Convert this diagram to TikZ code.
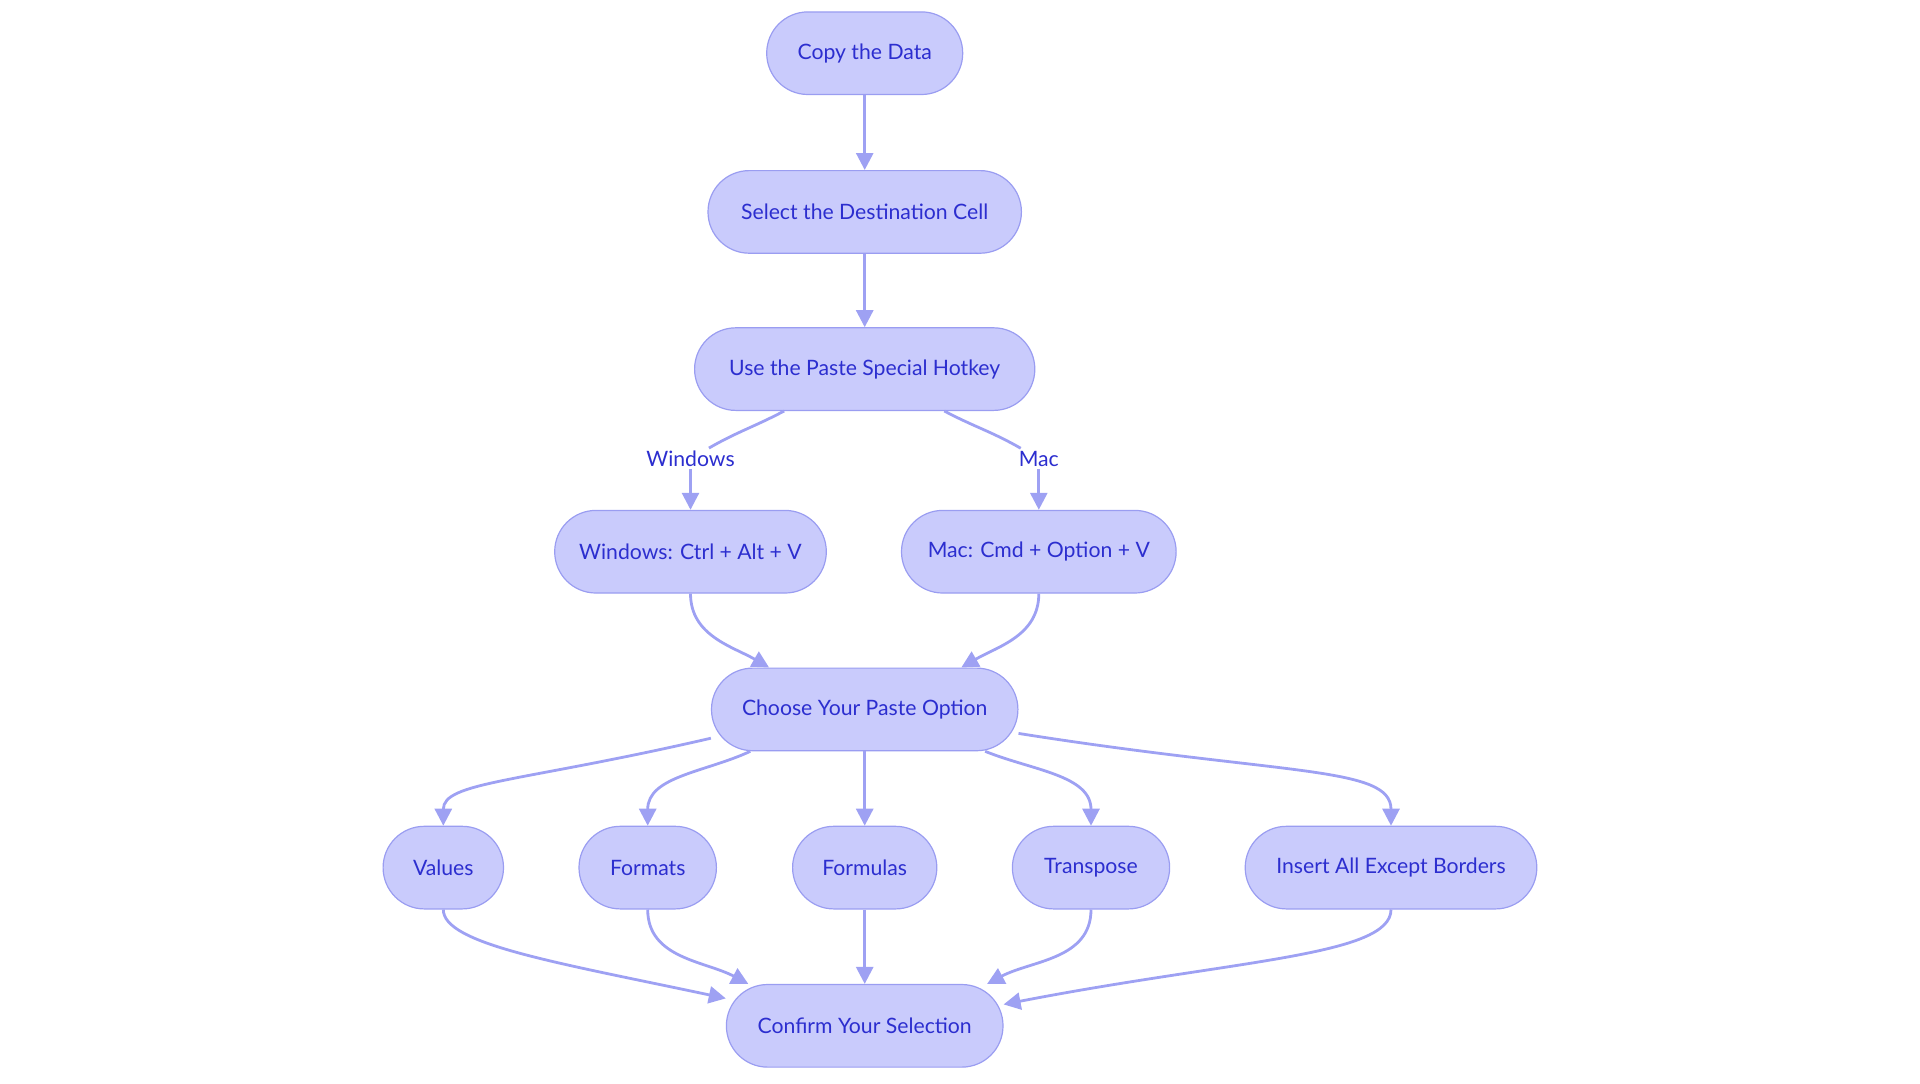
\documentclass[tikz,border=0pt]{standalone}
\usepackage{fontspec}
\setmainfont{Lato}
\usepackage{tikz}
\usetikzlibrary{arrows.meta}
\definecolor{boxfill}{HTML}{C9CBFC}
\definecolor{boxline}{HTML}{9A9DF1}
\definecolor{linkcol}{HTML}{9EA1F3}
\definecolor{txtcol}{HTML}{2C2ECF}
\tikzset{every picture/.style={line width=0.75pt}}
\tikzset{
  stadium/.style={draw=boxline, fill=boxfill, text=txtcol, line width=0.6pt,
    rounded corners=20.6pt, minimum height=41.3pt, inner sep=0pt,
    font=\fontsize{10.6}{13}\selectfont},
  plain/.style={draw=linkcol, line width=1.4pt},
  link/.style={plain, -{Triangle[length=8.5pt,width=8.5pt]}},
  lbl/.style={fill=white, text=txtcol, inner sep=1pt, font=\fontsize{10.6}{13}\selectfont}
}

\begin{document}
\begin{tikzpicture}[x=0.5pt,y=-0.5pt]
\useasboundingbox (0,0) rectangle (1920,1083);
\node[stadium, minimum width=98pt] (copy) at (864.7,53.2) {Copy the Data};
\node[stadium, minimum width=156.7pt] (sel) at (864.7,211.9) {Select the Destination Cell};
\node[stadium, minimum width=170.1pt] (hot) at (864.7,369.1) {Use the Paste Special Hotkey};
%
\node[stadium, minimum width=135.8pt] (win) at (690.5,551.7) {Windows: Ctrl + Alt + V};
\node[stadium, minimum width=137.3pt] (mac) at (1038.8,551.7) {Mac: Cmd + Option + V};
%
\node[stadium, minimum width=153.2pt] (cho) at (864.7,709.4) {Choose Your Paste Option};
%
\node[stadium, minimum width=60.2pt] (val) at (443.3,867.6) {Values};
\node[stadium, minimum width=68.7pt] (fmt) at (647.7,867.6) {Formats};
\node[stadium, minimum width=72.1pt] (fml) at (864.7,867.6) {Formulas};
\node[stadium, minimum width=78.6pt] (trn) at (1091,867.6) {Transpose};
\node[stadium, minimum width=145.8pt] (ins) at (1391,867.6) {Insert All Except Borders};
%
\node[stadium, minimum width=138.3pt] (cfm) at (864.7,1025.8) {Confirm Your Selection};
%
\node[lbl] (wlab) at (690.5,458.7) {Windows};
\node[lbl] (mlab) at (1038.8,458.7) {Mac};
%
\foreach \Source/\Target in {%
	copy/sel,
	sel/hot,
	wlab/win,
	mlab/mac,
	cho/fml,
	fml/cfm%
    }
\draw[link] (\Source) -- (\Target);
%
\draw[plain] ([xshift=-40.3pt]hot.south) to[out=208,in=30] (wlab);
\draw[plain] ([xshift=39.8pt]hot.south) to[out=-28,in=150] (mlab);
%
\draw[link] (win.south) to[out=270,in=150] ([xshift=-47.8pt]cho.north);
\draw[link] (mac.south) to[out=270,in=30] ([xshift=48.3pt]cho.north);
%
\draw[link] ([yshift=-14.4pt]cho.west) to[out=193,in=90,out looseness=1.8,in looseness=0.4] (val.north);
\draw[link] ([xshift=-57.2pt]cho.south) to[out=205,in=90] (fmt.north);
\draw[link] ([xshift=60.2pt]cho.south) to[out=-22,in=90] (trn.north);
\draw[link] ([yshift=-12pt]cho.east) to[out=-9,in=90,out looseness=1.8,in looseness=0.4] (ins.north);
%
\draw[link] (val.south) to[out=270,in=168,out looseness=0.3,in looseness=1.5] ([yshift=13.7pt]cfm.west);
\draw[link] (fmt.south) to[out=270,in=152] ([xshift=-58.2pt]cfm.north);
\draw[link] (trn.south) to[out=270,in=28] ([xshift=61.2pt]cfm.north);
\draw[link] (ins.south) to[out=270,in=11,out looseness=0.3,in looseness=1.5] ([yshift=10.7pt]cfm.east);
\end{tikzpicture}
\end{document}
